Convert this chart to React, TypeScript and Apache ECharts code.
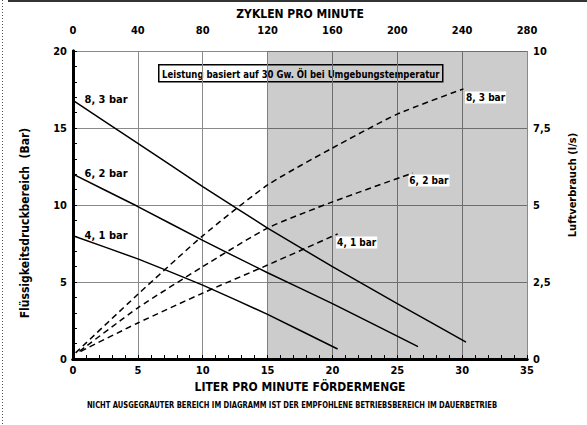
import React, { useEffect, useRef } from 'react';
import * as echarts from 'echarts';

const FONT = '"DejaVu Sans Condensed", "Liberation Sans Narrow", "Arial Narrow", sans-serif';

// Fluid pressure (bar) vs flow (l/min)
const flow83 = [0, 5, 10, 15, 20, 25, 30.3];
const press83 = [16.8, 14.0, 11.2, 8.5, 6.0, 3.6, 1.1];
const flow62 = [0, 5, 10, 15, 20, 26.6];
const press62 = [12.0, 9.9, 7.7, 5.6, 3.6, 0.8];
const flow41 = [0, 5, 10, 15, 20.4];
const press41 = [8.0, 6.5, 4.8, 2.9, 0.65];

// Air consumption (l/s) vs flow (l/min)
const airFlow83 = [0.2, 5, 10, 15, 20, 25, 30.1];
const air83 = [0.2, 2.1, 4.0, 5.65, 6.85, 7.95, 8.77];
const airFlow62 = [0.5, 5, 10, 15, 20, 26.2];
const air62 = [0.25, 1.66, 3.0, 4.25, 5.1, 6.04];
const airFlow41 = [0.6, 5, 10, 15, 20.4];
const air41 = [0.25, 1.17, 2.14, 3.05, 4.06];

const labels = ['8, 3 bar', '6, 2 bar', '4, 1 bar'];
const shadeFrom = 15;
const shadeTo = 35;

const zip = (xs: number[], ys: number[]) => xs.map((x, i) => [x, ys[i]]);

export default function App() {
  const ref = useRef<HTMLDivElement>(null);
  useEffect(() => {
    if (!ref.current) return;
    const chart = echarts.init(ref.current, undefined, { renderer: 'svg' });
    const txt = { fontFamily: FONT, fontWeight: 'bold' as const, color: '#000' };

    const startLabel = (data: number[][], name: string) => ({
      symbol: 'rect',
      symbolSize: 1,
      itemStyle: { color: 'rgba(0,0,0,0)' },
      data: [
        {
          coord: data[0],
          label: {
            show: true,
            formatter: name,
            position: [12, 0],
            align: 'left',
            verticalAlign: 'middle',
            ...txt,
            fontSize: 11,
          },
        },
      ],
    });
    const endLabel = (data: number[][], name: string, pos: number[]) => ({
      symbol: 'rect',
      symbolSize: 1,
      itemStyle: { color: 'rgba(0,0,0,0)' },
      data: [
        {
          coord: data[data.length - 1],
          label: {
            show: true,
            formatter: name,
            position: pos,
            align: 'left',
            verticalAlign: 'top',
            backgroundColor: '#fff',
            padding: [1, 1],
            ...txt,
            fontSize: 10,
          },
        },
      ],
    });

    const solid = (data: number[][], name: string) => ({
      type: 'line',
      xAxisIndex: 0,
      yAxisIndex: 0,
      data,
      smooth: 0.1,
      showSymbol: false,
      silent: true,
      lineStyle: { color: '#000', width: 1.5 },
      markPoint: startLabel(data, name),
      z: 5,
    });
    const dashed = (data: number[][], name: string, pos: number[]) => ({
      type: 'line',
      xAxisIndex: 0,
      yAxisIndex: 1,
      data,
      smooth: 0.2,
      showSymbol: false,
      silent: true,
      lineStyle: { color: '#000', width: 1.5, type: [6, 4] },
      markPoint: endLabel(data, name, pos),
      z: 5,
    });

    const d83 = zip(flow83, press83);
    const d62 = zip(flow62, press62);
    const d41 = zip(flow41, press41);
    const a83 = zip(airFlow83, air83);
    const a62 = zip(airFlow62, air62);
    const a41 = zip(airFlow41, air41);

    const axisLine = { show: true, lineStyle: { color: '#000', width: 3 } };

    chart.setOption({
      animation: false,
      backgroundColor: '#fff',
      textStyle: { fontFamily: FONT },
      grid: { left: 73, right: 60, top: 51, bottom: 66 },
      xAxis: [
        {
          type: 'value',
          position: 'bottom',
          min: 0,
          max: 35,
          interval: 5,
          axisLine,
          axisTick: { show: true, inside: true, length: 4, lineStyle: { color: '#000' } },
          minorTick: { show: true, splitNumber: 5, length: 4, lineStyle: { color: '#000' } },
          splitLine: { show: true, lineStyle: { color: '#8a8a8a', width: 1 } },
          axisLabel: { ...txt, fontSize: 11, margin: 6 },
          name: 'LITER PRO MINUTE FÖRDERMENGE',
          nameLocation: 'middle',
          nameGap: 12,
          nameTextStyle: { ...txt, fontSize: 12, verticalAlign: 'top' },
        },
        {
          type: 'value',
          position: 'top',
          min: 0,
          max: 280,
          interval: 40,
          axisLine,
          axisTick: { show: false },
          splitLine: { show: false },
          axisLabel: { ...txt, fontSize: 11, margin: 15 },
          name: 'ZYKLEN PRO MINUTE',
          nameLocation: 'middle',
          nameGap: 31,
          nameTextStyle: { ...txt, fontSize: 12 },
        },
      ],
      yAxis: [
        {
          type: 'value',
          position: 'left',
          min: 0,
          max: 20,
          interval: 5,
          axisLine,
          axisTick: { show: true, inside: true, length: 4, lineStyle: { color: '#000' } },
          minorTick: { show: true, splitNumber: 5, length: 4, lineStyle: { color: '#000' } },
          splitLine: { show: true, lineStyle: { color: '#8a8a8a', width: 1 } },
          axisLabel: { ...txt, fontSize: 11, margin: 6 },
        },
        {
          type: 'value',
          position: 'right',
          min: 0,
          max: 10,
          interval: 2.5,
          axisLine,
          axisTick: { show: false },
          splitLine: { show: false },
          axisLabel: {
            ...txt,
            fontSize: 11,
            margin: 6,
            formatter: (v: number) => String(v).replace('.', ','),
          },
        },
      ],
      series: [
        {
          type: 'line',
          xAxisIndex: 0,
          yAxisIndex: 0,
          data: [],
          silent: true,
          markArea: {
            silent: true,
            itemStyle: { color: 'rgba(0,0,0,0.2)' },
            data: [[{ xAxis: shadeFrom }, { xAxis: shadeTo }]],
          },
          z: 1,
        },
        solid(d83, labels[0]),
        solid(d62, labels[1]),
        solid(d41, labels[2]),
        dashed(a83, labels[0], [2, 3]),
        dashed(a62, labels[1], [-4, 2]),
        dashed(a41, labels[2], [-1, 3]),
      ],
      graphic: [
        {
          type: 'line',
          shape: { x1: 2.5, y1: 0, x2: 2.5, y2: 425 },
          style: { stroke: '#555', lineWidth: 1, lineDash: [1, 2] },
          silent: true,
        },
        {
          type: 'line',
          shape: { x1: 8, y1: 1, x2: 587, y2: 1 },
          style: { stroke: '#333', lineWidth: 2 },
          silent: true,
        },
        {
          type: 'group',
          left: 158,
          top: 64,
          z: 100,
          children: [
            {
              type: 'rect',
              shape: { x: 0, y: 0, width: 284, height: 17 },
              style: { fill: '#fff', stroke: '#000', lineWidth: 1.5 },
            },
            {
              type: 'text',
              x: 142,
              y: 8.5,
              scaleX: 0.86,
              style: {
                text: 'Leistung basiert auf 30 Gw. Öl bei Umgebungstemperatur',
                font: `bold 11px ${FONT}`,
                fill: '#000',
                align: 'center',
                verticalAlign: 'middle',
              },
            },
          ],
        },
        {
          type: 'text',
          x: 25,
          y: 223,
          rotation: Math.PI / 2,
          style: {
            text: 'Flüssigkeitsdruckbereich  (Bar)',
            font: `bold 12px ${FONT}`,
            fill: '#000',
            align: 'center',
            verticalAlign: 'middle',
          },
        },
        {
          type: 'text',
          x: 572,
          y: 185,
          rotation: Math.PI / 2,
          style: {
            text: 'Luftverbrauch (l/s)',
            font: `bold 11px ${FONT}`,
            fill: '#000',
            align: 'center',
            verticalAlign: 'middle',
          },
        },
        {
          type: 'text',
          x: 292,
          y: 405,
          scaleX: 0.84,
          style: {
            text: 'NICHT AUSGEGRAUTER BEREICH IM DIAGRAMM IST DER EMPFOHLENE BETRIEBSBEREICH IM DAUERBETRIEB',
            font: `bold 9px ${FONT}`,
            fill: '#000',
            align: 'center',
            verticalAlign: 'middle',
          },
        },
      ],
    });
    return () => chart.dispose();
  }, []);
  return <div ref={ref} style={{ width: 587, height: 425, position: 'absolute', left: 0, top: 0 }} />;
}
